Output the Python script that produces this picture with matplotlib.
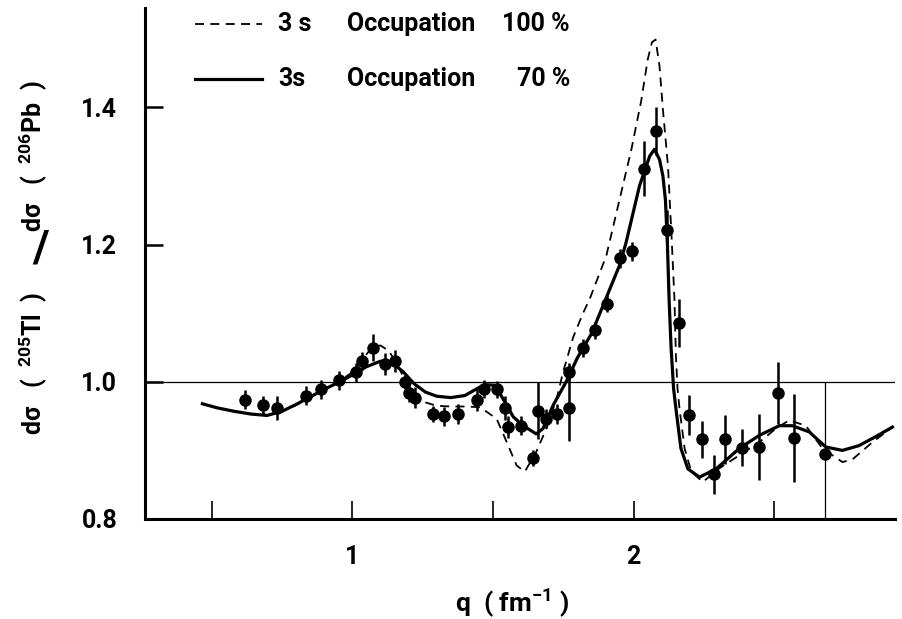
import numpy as np
import matplotlib
matplotlib.use("Agg")
import matplotlib.pyplot as plt
from matplotlib.lines import Line2D

# measured cross-section ratio with errors
q_data = [0.620, 0.682, 0.733, 0.837, 0.890, 0.951, 1.013, 1.034, 1.072, 1.115,
          1.152, 1.186, 1.200, 1.223, 1.288, 1.326, 1.377, 1.442, 1.469, 1.513,
          1.544, 1.552, 1.598, 1.641, 1.661, 1.687, 1.728, 1.770, 1.771, 1.821,
          1.864, 1.906, 1.953, 1.995, 2.037, 2.080, 2.119, 2.161, 2.196, 2.242,
          2.284, 2.323, 2.384, 2.444, 2.512, 2.569]
r_data = [0.974, 0.966, 0.962, 0.980, 0.989, 1.002, 1.014, 1.030, 1.050, 1.026,
          1.031, 1.000, 0.984, 0.977, 0.953, 0.950, 0.953, 0.974, 0.990, 0.989,
          0.962, 0.934, 0.936, 0.889, 0.958, 0.946, 0.953, 0.962, 1.015, 1.049,
          1.075, 1.114, 1.180, 1.190, 1.311, 1.366, 1.222, 1.086, 0.952, 0.916,
          0.865, 0.916, 0.904, 0.905, 0.984, 0.918]
r_err = [0.014, 0.014, 0.017, 0.014, 0.014, 0.014, 0.014, 0.013, 0.020, 0.016,
         0.016, 0.010, 0.014, 0.015, 0.012, 0.014, 0.014, 0.016, 0.013, 0.012,
         0.018, 0.016, 0.014, 0.012, 0.042, 0.014, 0.014, 0.048, 0.013, 0.013,
         0.012, 0.012, 0.014, 0.014, 0.040, 0.035, 0.028, 0.035, 0.029, 0.027,
         0.028, 0.036, 0.027, 0.048, 0.045, 0.064]

# last point: very large error, drawn thin
q_last = [2.681]
r_last = [0.895]
err_last = [0.105]

# 3s occupation 70 % (solid)
q_70 = [0.467, 0.52, 0.58, 0.64, 0.697, 0.75, 0.80, 0.85, 0.90, 0.95,
        1.00, 1.05, 1.10, 1.14, 1.18, 1.22, 1.26, 1.30, 1.35, 1.40,
        1.43, 1.47, 1.507, 1.543, 1.572, 1.607, 1.654, 1.678, 1.714, 1.76,
        1.80, 1.85, 1.90, 1.95, 1.973, 2.021, 2.057, 2.074, 2.092, 2.104,
        2.113, 2.120, 2.126, 2.133, 2.142, 2.152, 2.168, 2.193, 2.234, 2.293,
        2.376, 2.447, 2.518, 2.564, 2.624, 2.683, 2.742, 2.801, 2.86, 2.92]
r_70 = [0.968, 0.962, 0.957, 0.953, 0.951, 0.957, 0.967, 0.978, 0.989, 0.999,
        1.010, 1.022, 1.030, 1.028, 1.015, 0.997, 0.985, 0.979, 0.977, 0.980,
        0.987, 0.996, 0.995, 0.970, 0.949, 0.936, 0.924, 0.932, 0.966, 1.000,
        1.035, 1.070, 1.120, 1.170, 1.203, 1.286, 1.329, 1.339, 1.324, 1.300,
        1.265, 1.200, 1.120, 1.050, 0.990, 0.955, 0.903, 0.873, 0.861, 0.873,
        0.903, 0.922, 0.936, 0.936, 0.927, 0.905, 0.900, 0.907, 0.920, 0.934]

# 3s occupation 100 % (dashed)
q_100 = [0.467, 0.52, 0.58, 0.64, 0.697, 0.75, 0.80, 0.85, 0.90, 0.95,
         1.00, 1.04, 1.07, 1.10, 1.13, 1.16, 1.19, 1.22, 1.26, 1.30,
         1.35, 1.40, 1.454, 1.489, 1.513, 1.549, 1.584, 1.613, 1.654, 1.690,
         1.726, 1.749, 1.785, 1.82, 1.844, 1.903, 1.950, 1.992, 2.027, 2.050,
         2.065, 2.078, 2.092, 2.104, 2.122, 2.134, 2.145, 2.150, 2.156, 2.163,
         2.181, 2.205, 2.246, 2.305, 2.376, 2.447, 2.506, 2.553, 2.612, 2.671,
         2.742, 2.778, 2.849, 2.92]
r_100 = [0.968, 0.962, 0.957, 0.953, 0.951, 0.957, 0.966, 0.977, 0.989, 1.000,
         1.014, 1.035, 1.050, 1.053, 1.045, 1.025, 1.000, 0.982, 0.970, 0.965,
         0.964, 0.964, 0.963, 0.953, 0.946, 0.912, 0.878, 0.869, 0.898, 0.932,
         0.975, 1.014, 1.065, 1.100, 1.121, 1.184, 1.266, 1.339, 1.410, 1.470,
         1.495, 1.499, 1.460, 1.397, 1.315, 1.218, 1.121, 1.040, 0.990, 0.961,
         0.903, 0.869, 0.854, 0.874, 0.893, 0.912, 0.932, 0.944, 0.936, 0.903,
         0.883, 0.887, 0.912, 0.934]

x_ticks = [0.5, 1.0, 1.5, 2.0, 2.5]
x_ticklabels = ["", "1", "", "2", ""]
y_ticks = [0.8, 1.0, 1.2, 1.4]
y_ticklabels = ["0.8", "1.0", "1.2", "1.4"]

plt.rcParams['font.family'] = ['Roboto', 'DejaVu Sans']
plt.rcParams['mathtext.fontset'] = 'custom'
plt.rcParams['mathtext.rm'] = 'Roboto:bold'
plt.rcParams['mathtext.it'] = 'Roboto:bold'
plt.rcParams['mathtext.bf'] = 'Roboto:bold'
FW = 'bold'

W, H = 902, 619
fig = plt.figure(figsize=(W / 100, H / 100), dpi=100)
ax = fig.add_axes([145 / W, 1 - 519 / H, 750 / W, 511 / H])

ax.axhline(1.0, color='k', lw=0.9)
ax.plot(q_100, r_100, color='k', lw=1.3, dashes=(5, 3.5))
ax.plot(q_70, r_70, color='k', lw=2.3)
ax.errorbar(q_data, r_data, yerr=r_err, fmt='o', color='k', ms=8,
            elinewidth=1.8, capsize=0)
ax.errorbar(q_last, r_last, yerr=err_last, fmt='o', color='k', ms=8,
            elinewidth=0.9, capsize=0)

ax.set_xlim(0.263, 2.929)
ax.set_ylim(0.8, 1.545)
for s in ['top', 'right']:
    ax.spines[s].set_visible(False)
for s in ['left', 'bottom']:
    ax.spines[s].set_linewidth(2.2)

ax.set_xticks(x_ticks)
ax.set_xticklabels(x_ticklabels)
ax.set_yticks(y_ticks)
ax.set_yticklabels(y_ticklabels)
ax.tick_params(axis='x', direction='in', length=13, width=1.2, pad=19,
               labelsize=18)
ax.tick_params(axis='y', direction='in', length=13, width=1.8, pad=20,
               labelsize=18)
for lab in ax.get_xticklabels() + ax.get_yticklabels():
    lab.set_fontweight(FW)

# x label
fig.text(512 / W, 1 - 603 / H, r"q  ( fm$^{-1}$ )", ha='center', va='center',
         fontsize=19, fontweight=FW)

# y label in three pieces
fig.text(33 / W, 1 - 363 / H, r"d$\sigma$   (  $^{205}$Tl  )", rotation=90,
         ha='center', va='center', fontsize=18, fontweight=FW)
fig.text(41 / W, 1 - 250 / H, "/", ha='center', va='center', fontsize=32,
         fontweight='bold')
fig.text(33 / W, 1 - 156 / H, r"d$\sigma$   (  $^{206}$Pb  )", rotation=90,
         ha='center', va='center', fontsize=18, fontweight=FW)

# legend drawn by hand
rows = [(24, (5, 3.5), 1.3, "3 s", "100 %"), (79, None, 2.3, "3s", "70 %")]
for yy, dash, lw, s3, pct in rows:
    yf = 1 - yy / H
    ln = Line2D([195 / W, 262 / W], [yf, yf], color='k', lw=lw,
                transform=fig.transFigure)
    if dash is not None:
        ln.set_dashes(dash)
    fig.add_artist(ln)
    fig.text(278 / W, yf, s3, ha='left', va='center', fontsize=18, fontweight=FW)
    fig.text(347 / W, yf, "Occupation", ha='left', va='center', fontsize=18,
             fontweight=FW)
    fig.text(570 / W, yf, pct, ha='right', va='center', fontsize=18, fontweight=FW)

fig.savefig("out.png", dpi=100)
